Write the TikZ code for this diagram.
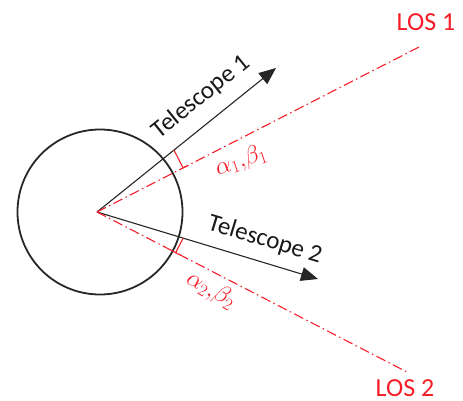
\documentclass[tikz,border=0pt]{standalone}
\usepackage{fontspec}
\setmainfont{Carlito}
\usetikzlibrary{calc,arrows.meta}
\definecolor{losred}{RGB}{245,30,40}
\begin{document}
\begin{tikzpicture}[x=1pt,y=-1pt,
  tel/.style={draw=black!85,line width=1.1pt,-{Triangle[length=17pt,width=14pt]}},
  los/.style={draw=losred,line width=1.1pt,dash pattern=on 10pt off 3.5pt on 1.5pt off 3.5pt},
  perpmark/.style={draw=losred,line width=1.1pt},
  lbl/.style={text=black!90,inner sep=1pt,font=\fontsize{25}{30}\selectfont},
  redlbl/.style={text=losred,inner sep=0pt,font=\fontsize{26}{30}\selectfont},
  anglbl/.style={text=losred,inner sep=1pt,font=\fontsize{24}{28}\selectfont}]
\useasboundingbox (0,0) rectangle (463,401);
\coordinate (O) at (97,212);
\node[draw=black!85,line width=1.8pt,circle,minimum size=165pt,inner sep=0pt] (body) at (100,212) {};
\coordinate (T1) at (276,68);
\coordinate (T2) at (318,279);
\coordinate (L1) at (421,46);
\coordinate (L2) at (407,372);
\draw[tel] (O) -- (T1);
\draw[tel] (O) -- (T2);
\draw[los] (O) -- (L1);
\draw[los] (O) -- (L2);
% right-angle marks
\coordinate (m1a) at ($(O)!0.43!(T1)$);
\coordinate (m1b) at ($(O)!(m1a)!(L1)$);
\draw[perpmark] (m1a) -- (m1b) -- ($(m1b)!6pt!(L1)$);
\coordinate (m2a) at ($(O)!0.39!(T2)$);
\coordinate (m2b) at ($(O)!(m2a)!(L2)$);
\draw[perpmark] (m2a) -- (m2b);
\draw[perpmark] ($(m2b)!-5pt!(L2)$) -- ($(m2b)!5pt!(L2)$);
\node[lbl,rotate=39] (t1) at (201,97) {Telescope 1};
\node[lbl,rotate=-17] (t2) at (265,240) {Telescope 2};
\node[redlbl] (los1) at (426,22) {LOS 1};
\node[redlbl] (los2) at (405,388) {LOS 2};
\node[anglbl,rotate=18] (ab1) at (241,161) {$\alpha_1{,}\beta_1$};
\node[anglbl,rotate=-30] (ab2) at (211,290) {$\alpha_2{,}\beta_2$};
\end{tikzpicture}
\end{document}
